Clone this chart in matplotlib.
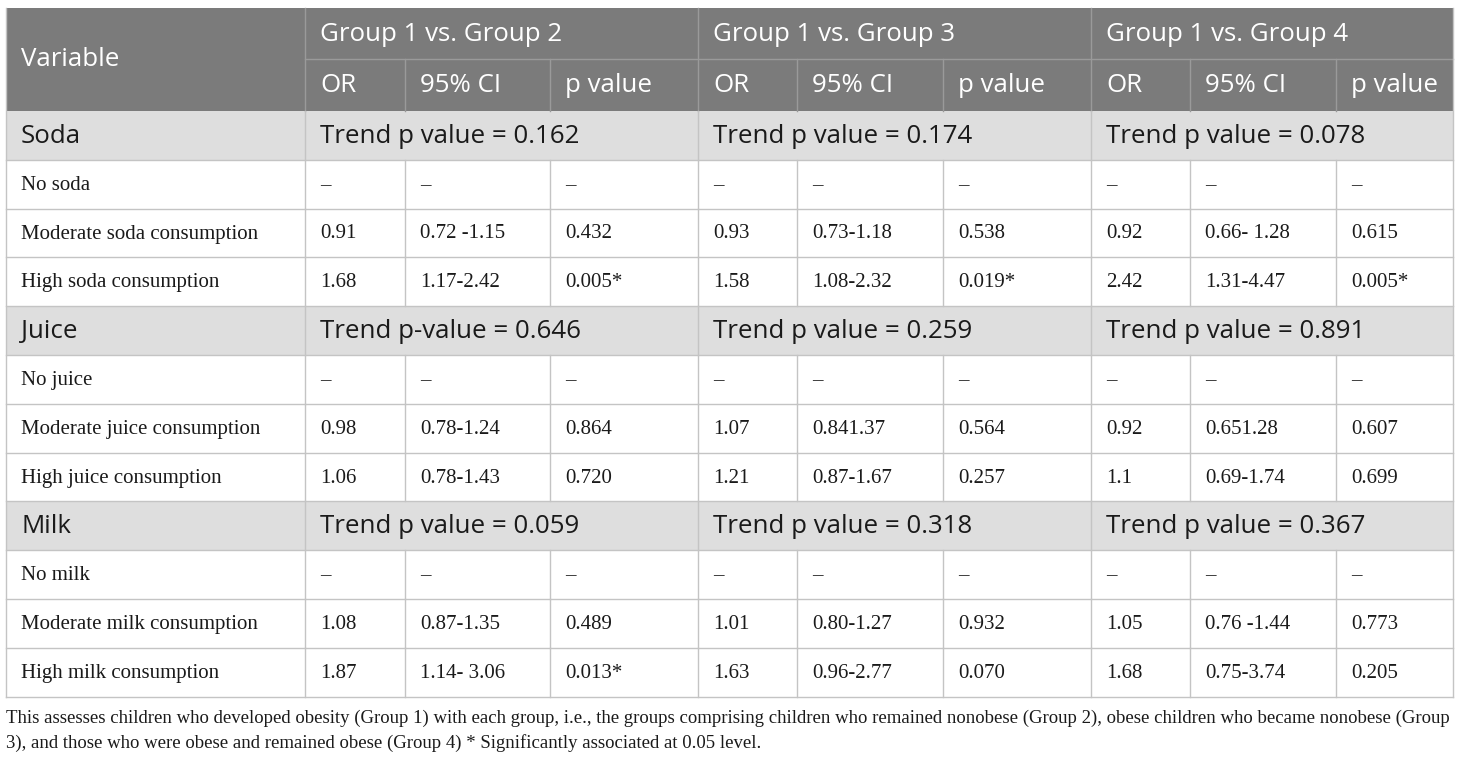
import matplotlib
matplotlib.use("Agg")
import matplotlib.pyplot as plt
from matplotlib.patches import Rectangle

# table content
groups = ["Group 1 vs. Group 2", "Group 1 vs. Group 3", "Group 1 vs. Group 4"]
sub_headers = ["OR", "95% CI", "p value"]
sections = ["Soda", "Juice", "Milk"]
trend_soda = ["Trend p value = 0.162", "Trend p value = 0.174", "Trend p value = 0.078"]
trend_juice = ["Trend p-value = 0.646", "Trend p value = 0.259", "Trend p value = 0.891"]
trend_milk = ["Trend p value = 0.059", "Trend p value = 0.318", "Trend p value = 0.367"]

dash = "\u2013"
no_row = [dash] * 9

soda_labels = ["No soda", "Moderate soda consumption", "High soda consumption"]
soda_rows = [
    no_row,
    ["0.91", "0.72 -1.15", "0.432", "0.93", "0.73-1.18", "0.538", "0.92", "0.66- 1.28", "0.615"],
    ["1.68", "1.17-2.42", "0.005*", "1.58", "1.08-2.32", "0.019*", "2.42", "1.31-4.47", "0.005*"],
]
juice_labels = ["No juice", "Moderate juice consumption", "High juice consumption"]
juice_rows = [
    no_row,
    ["0.98", "0.78-1.24", "0.864", "1.07", "0.841.37", "0.564", "0.92", "0.651.28", "0.607"],
    ["1.06", "0.78-1.43", "0.720", "1.21", "0.87-1.67", "0.257", "1.1", "0.69-1.74", "0.699"],
]
milk_labels = ["No milk", "Moderate milk consumption", "High milk consumption"]
milk_rows = [
    no_row,
    ["1.08", "0.87-1.35", "0.489", "1.01", "0.80-1.27", "0.932", "1.05", "0.76 -1.44", "0.773"],
    ["1.87", "1.14- 3.06", "0.013*", "1.63", "0.96-2.77", "0.070", "1.68", "0.75-3.74", "0.205"],
]

footnote = ("This assesses children who developed obesity (Group 1) with each group, i.e., the groups "
            "comprising children who remained nonobese (Group 2), obese children who became nonobese (Group\n"
            "3), and those who were obese and remained obese (Group 4) * Significantly associated at 0.05 level.")

# layout in pixels
W, H = 1460, 758
col_x = [6, 305, 405, 550, 698, 797, 943, 1091, 1190, 1336, 1453]
top = 8
head_mid = 59
head_bot = 111
row_h = 48.8
pad = 15

HEAD_BG = "#7b7b7b"
SEC_BG = "#dedede"
LINE = "#c4c4c4"
HEAD_LINE = "#9a9a9a"
TXT = "#1a1a1a"
sans = ["Open Sans", "DejaVu Sans"]
serif = ["Liberation Serif", "DejaVu Serif"]
fs_head = 18.6
fs_body = 15.0

fig = plt.figure(figsize=(W / 100, H / 100), dpi=100)
ax = fig.add_axes([0, 0, 1, 1])
ax.set_xlim(0, W)
ax.set_ylim(H, 0)
ax.axis("off")

left, right = col_x[0], col_x[-1]

# header
ax.add_patch(Rectangle((left, top), right - left, head_bot - top, color=HEAD_BG, lw=0))
ax.plot([col_x[1], right], [head_mid, head_mid], color=HEAD_LINE, lw=1)
for x in col_x[1:-1]:
    y0 = top if x in (col_x[1], col_x[4], col_x[7]) else head_mid
    ax.plot([x, x], [y0, head_bot], color=HEAD_LINE, lw=1)
ax.text(left + pad, (top + head_bot) / 2, "Variable", color="white", fontsize=fs_head,
        family=sans, va="center")
for g, name in enumerate(groups):
    ax.text(col_x[1 + 3 * g] + pad, (top + head_mid) / 2 + 1, name, color="white",
            fontsize=fs_head, family=sans, va="center")
    for k, s in enumerate(sub_headers):
        ax.text(col_x[1 + 3 * g + k] + pad, (head_mid + head_bot) / 2 + 1, s, color="white",
                fontsize=fs_head, family=sans, va="center")

# body
blocks = [
    (sections[0], trend_soda, soda_labels, soda_rows),
    (sections[1], trend_juice, juice_labels, juice_rows),
    (sections[2], trend_milk, milk_labels, milk_rows),
]
y = head_bot
for sec, trends, labels, rows in blocks:
    ax.add_patch(Rectangle((left, y), right - left, row_h, color=SEC_BG, lw=0))
    ax.text(left + pad, y + row_h / 2 + 1, sec, fontsize=fs_head, family=sans, va="center",
            color=TXT)
    for g in range(3):
        ax.text(col_x[1 + 3 * g] + pad, y + row_h / 2 + 1, trends[g], fontsize=fs_head,
                family=sans, va="center", color=TXT)
    for x in [col_x[1], col_x[4], col_x[7]]:
        ax.plot([x, x], [y, y + row_h], color=LINE, lw=1)
    y += row_h
    for lab, vals in zip(labels, rows):
        ax.plot([left, right], [y, y], color=LINE, lw=1)
        ax.text(left + pad, y + row_h / 2 + 1, lab, fontsize=fs_body, family=serif,
                va="center", color=TXT)
        for k, v in enumerate(vals):
            ax.text(col_x[1 + k] + pad, y + row_h / 2 + 1, v, fontsize=fs_body, family=serif,
                    va="center", color=TXT)
        for x in col_x[1:-1]:
            ax.plot([x, x], [y, y + row_h], color=LINE, lw=1)
        y += row_h
    ax.plot([left, right], [y, y], color=LINE, lw=1)

ax.plot([left, left], [top, y], color=LINE, lw=1)
ax.plot([right, right], [top, y], color=LINE, lw=1)

ax.text(left, y + 13, footnote, fontsize=13.5, family=serif, va="top", color=TXT,
        linespacing=1.5)

fig.savefig("out.png", dpi=100)
